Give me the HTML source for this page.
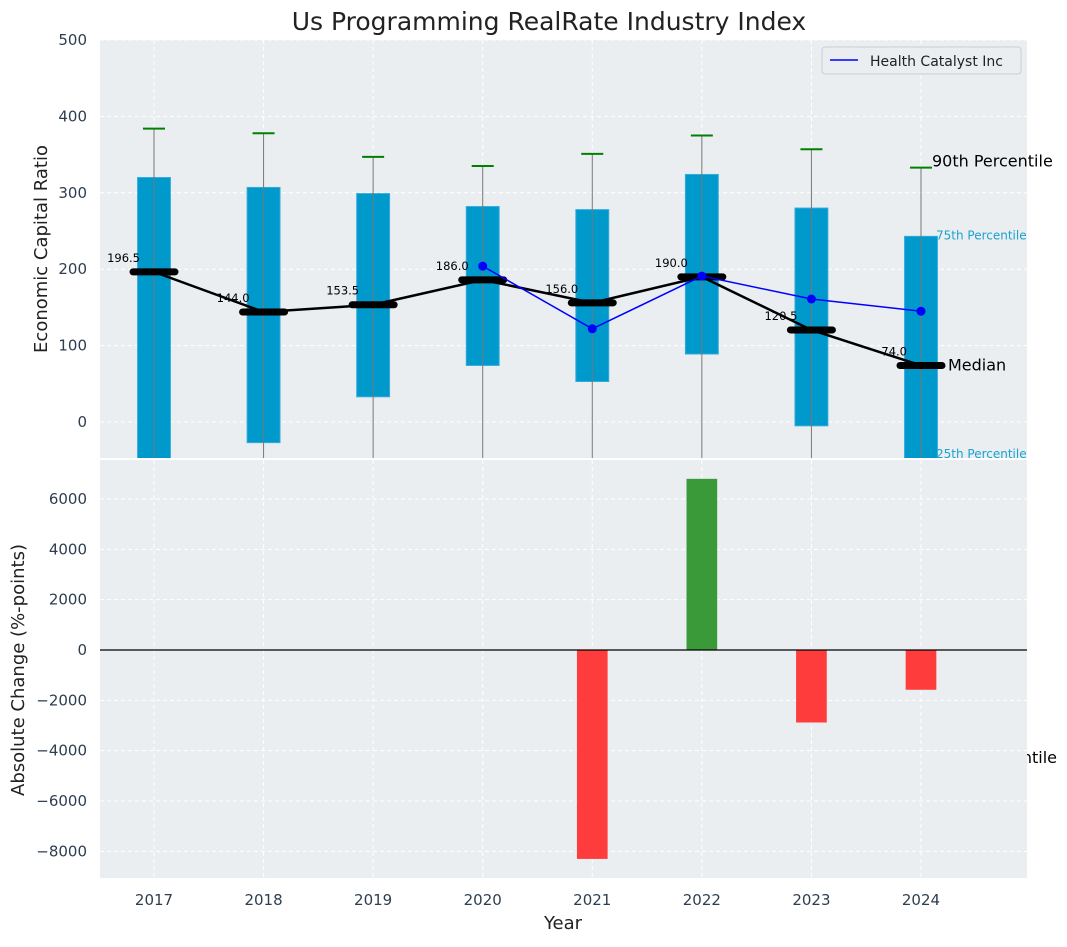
<!DOCTYPE html>
<html><head><meta charset="utf-8"><style>
body{margin:0;background:#fff;font-family:"Liberation Sans","DejaVu Sans",sans-serif}
svg text{font-family:"DejaVu Sans","Liberation Sans",sans-serif}
</style></head><body>
<svg id="c" width="1067" height="942" xmlns="http://www.w3.org/2000/svg"></svg>
<script>
const years=[2017,2018,2019,2020,2021,2022,2023,2024];
const q25=[-60,-27,33,74,53,89,-5,-60];
const q75=[320,307,299,282,278,324,280,243];
const p90=[384,378,347,335,351,375,357,333];
const medians=[196.5,144.0,153.5,186.0,156.0,190.0,120.5,74.0];
const hcYears=[2020,2021,2022,2023,2024];
const hcValues=[204,122,191,161,145];
const chgYears=[2021,2022,2023,2024];
const chgValues=[-8300,6800,-2880,-1580];
const topTicks=[0,100,200,300,400,500];
const botTicks=[-8000,-6000,-4000,-2000,0,2000,4000,6000];

const NS="http://www.w3.org/2000/svg";
const svg=document.getElementById('c');
function el(tag,attrs,parent,name,inter){const e=document.createElementNS(NS,tag);for(const k in attrs)e.setAttribute(k,attrs[k]);


(parent||svg).appendChild(e);return e;}
const L=100,R=1027;
const X=v=>154+(v-2017)*109.57;
const T0=40,T1=458,B0=460,B1=878;
const YT=v=>422-(v)*0.764;
const YB=v=>650-v*0.02517;
const ux=109.57;

el('text',{x:549,y:30,'font-size':25,'text-anchor':'middle',fill:'#222'},svg,'chart-title').textContent='Us Programming RealRate Industry Index';
const topG=el('g',{},svg,'top-panel');
el('rect',{x:L,y:T0,width:R-L,height:T1-T0,fill:'#eaeef0'},topG,'top-plot-background');
const defs=el('clipPath',{id:'ct'},svg,'top-clip');el('rect',{x:L,y:T0,width:R-L,height:T1-T0},defs,'top-clip-rect');
topTicks.forEach(t=>{const y=YT(t);
el('line',{x1:L,x2:R,y1:y,y2:y,stroke:'#fff','stroke-dasharray':'4,3','stroke-width':1},topG,'top-gridline');
el('text',{x:L-13,y:y+5,'font-size':15,'text-anchor':'end',fill:'#2d3e50'},topG,'top-y-tick-label').textContent=t;});
years.forEach(yr=>{const x=X(yr);el('line',{x1:x,x2:x,y1:T0,y2:T1,stroke:'#fff','stroke-dasharray':'4,3'},topG,'x-gridline');});
const tg=el('g',{'clip-path':'url(#ct)'},topG,'top-marks');
const bw=0.3*ux;
years.forEach((yr,i)=>{const x=X(yr);
el('rect',{x:x-bw/2,y:YT(q75[i]),width:bw,height:YT(q25[i])-YT(q75[i]),fill:'#0099cc',stroke:'#33aadd','stroke-width':1},tg,'iqr-box-'+yr);
el('line',{x1:x,x2:x,y1:YT(p90[i]),y2:T1+5,stroke:'#777','stroke-width':1},tg,'whisker-'+yr);
el('line',{x1:x-11,x2:x+11,y1:YT(p90[i]),y2:YT(p90[i]),stroke:'#008000','stroke-width':2},tg,'p90-cap-'+yr);
el('text',{x:x-14,y:YT(medians[i])-10,'font-size':11.5,'text-anchor':'end',fill:'#000'},tg,'median-label-'+yr).textContent=medians[i].toFixed(1);
});
el('polyline',{points:years.map((y,i)=>X(y)+','+YT(medians[i])).join(' '),fill:'none',stroke:'#000','stroke-width':2.5},tg,'median-line');
years.forEach((yr,i)=>{const x=X(yr);el('line',{x1:x-21,x2:x+21,y1:YT(medians[i]),y2:YT(medians[i]),stroke:'#000','stroke-width':7,'stroke-linecap':'round'},tg,'median-bar-'+yr);});
el('polyline',{points:hcYears.map((y,i)=>X(y)+','+YT(hcValues[i])).join(' '),fill:'none',stroke:'#0000ff','stroke-width':1.5},tg,'health-catalyst-line');
hcYears.forEach((y,i)=>el('circle',{cx:X(y),cy:YT(hcValues[i]),r:4.5,fill:'#0000ff'},tg,'health-catalyst-point-'+y));
const lx=X(2024);
el('text',{x:lx+11,y:YT(p90[7])-1,'font-size':16,fill:'#000'},topG,'p90-annotation').textContent='90th Percentile';
el('text',{x:lx+15,y:YT(q75[7])+3,'font-size':12,fill:'#1aa3d0'},topG,'p75-annotation').textContent='75th Percentile';
el('text',{x:lx+15,y:458,'font-size':12,fill:'#1aa3d0'},topG,'p25-annotation').textContent='25th Percentile';
el('text',{x:lx+27,y:YT(medians[7])+5,'font-size':16,fill:'#000'},topG,'median-annotation').textContent='Median';
el('text',{x:1057,y:763,'font-size':16,fill:'#000','text-anchor':'end'},svg,'p10-annotation').textContent='10th Percentile';
const lg=el('g',{},svg,'legend');
el('rect',{x:822,y:47,width:199,height:27,rx:3,fill:'#eaeef0',stroke:'#ccc'},lg,'legend-box');
el('line',{x1:830,x2:858,y1:60,y2:60,stroke:'#0000ff','stroke-width':1.5},lg,'legend-swatch');
el('text',{x:870,y:66,'font-size':14,fill:'#222'},lg,'legend-label').textContent='Health Catalyst Inc';
el('text',{x:0,y:0,'font-size':18,fill:'#222','text-anchor':'middle',transform:'translate(47,249) rotate(-90)'},svg,'top-y-axis-title').textContent='Economic Capital Ratio';
const botG=el('g',{},svg,'bottom-panel');
el('rect',{x:L,y:B0,width:R-L,height:B1-B0,fill:'#eaeef0'},botG,'bottom-plot-background');
el('line',{x1:L,x2:R,y1:459,y2:459,stroke:'#fff','stroke-width':2},botG,'panel-separator');
botTicks.forEach(t=>{const y=YB(t);
el('line',{x1:L,x2:R,y1:y,y2:y,stroke:'#fff','stroke-dasharray':'4,3'},botG,'bottom-gridline');
el('text',{x:L-13,y:y+5,'font-size':15,'text-anchor':'end',fill:'#2d3e50'},botG,'bottom-y-tick-label').textContent=(t<0?'\u2212'+(-t):t);});
years.forEach(yr=>{const x=X(yr);el('line',{x1:x,x2:x,y1:B0,y2:B1,stroke:'#fff','stroke-dasharray':'4,3'},botG,'x-gridline');
el('text',{x:x,y:905,'font-size':15,'text-anchor':'middle',fill:'#2d3e50'},botG,'x-tick-label').textContent=yr;});
const cw=0.28*ux;
chgYears.forEach((yr,i)=>{const v=chgValues[i];const y1=YB(Math.max(v,0)),y2=YB(Math.min(v,0));
el('rect',{x:X(yr)-cw/2,y:y1,width:cw,height:y2-y1,fill:v>=0?'#3a9a3a':'#ff3c3c'},botG,'change-bar-'+yr);});
el('line',{x1:L,x2:R,y1:YB(0),y2:YB(0),stroke:'#000','stroke-width':1.2},botG,'zero-line');
el('text',{x:0,y:0,'font-size':18,fill:'#222','text-anchor':'middle',transform:'translate(24,670) rotate(-90)'},svg,'bottom-y-axis-title').textContent='Absolute Change (%-points)';
el('text',{x:563,y:929,'font-size':18,fill:'#222','text-anchor':'middle'},svg,'x-axis-title').textContent='Year';
</script>
</body></html>
